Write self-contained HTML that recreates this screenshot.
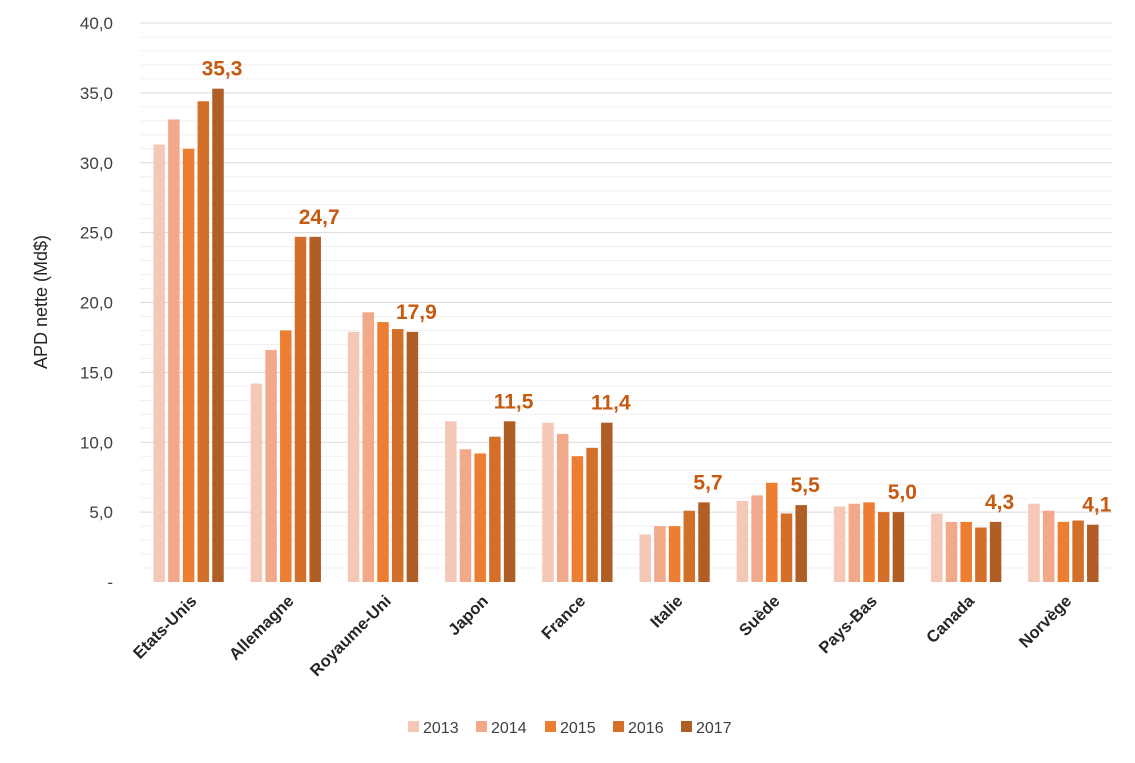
<!DOCTYPE html>
<html><head><meta charset="utf-8"><style>
body{margin:0;background:#fff;font-family:"Liberation Sans",sans-serif}
</style></head><body>
<svg width="1135" height="758" xmlns="http://www.w3.org/2000/svg" id="c"></svg>
<script>
const categories=["Etats-Unis","Allemagne","Royaume-Uni","Japon","France","Italie","Suède","Pays-Bas","Canada","Norvège"];
const years=["2013","2014","2015","2016","2017"];
const s2013=[31.3,14.2,17.9,11.5,11.4,3.4,5.8,5.4,4.9,5.6];
const s2014=[33.1,16.6,19.3,9.5,10.6,4.0,6.2,5.6,4.3,5.1];
const s2015=[31.0,18.0,18.6,9.2,9.0,4.0,7.1,5.7,4.3,4.3];
const s2016=[34.4,24.7,18.1,10.4,9.6,5.1,4.9,5.0,3.9,4.4];
const s2017=[35.3,24.7,17.9,11.5,11.4,5.7,5.5,5.0,4.3,4.1];
const yTicks=[0,5,10,15,20,25,30,35,40];
const yTickLabels=["-","5,0","10,0","15,0","20,0","25,0","30,0","35,0","40,0"];
const series=[s2013,s2014,s2015,s2016,s2017];
const colors=["#F4C7B6","#F1A98A","#ED7D31","#D46F2A","#B05E26"];
const svg=document.getElementById('c');const NS="http://www.w3.org/2000/svg";
function mk(t,a,p){const e=document.createElementNS(NS,t);for(const k in a)e.setAttribute(k,a[k]);(p||svg).appendChild(e);return e;}
const x0=140,x1=1112,yB=582,yT=23;
const y=v=>yB-(v/40)*(yB-yT);
const bw=(x1-x0)/categories.length;
for(let v=1;v<=40;v++){const l=mk('line',{x1:x0,x2:x1,y1:y(v),y2:y(v),stroke:v%5?'#F0F0F0':'#D9D9D9','stroke-width':1});
}
yTicks.forEach((v,i)=>{const t=mk('text',{x:113,y:y(v)+6,'text-anchor':'end','font-size':17,fill:'#404040'});t.textContent=yTickLabels[i];
});
const at=mk('text',{x:47,y:302,'text-anchor':'middle','font-size':18,fill:'#262626',transform:'rotate(-90 47 302)'});at.textContent="APD nette (Md$)";

const step=14.7,w=11.5;
categories.forEach((c,i)=>{const cx=x0+bw*(i+0.5);
series.forEach((s,j)=>{const bx=cx+(j-2)*step-w/2;const r=mk('rect',{x:bx,y:y(s[i]),width:w,height:yB-y(s[i]),fill:colors[j]});
});
const lx=cx+2*step+4;const lt=mk('text',{x:lx,y:y(s2017[i])-13,'text-anchor':'middle','font-size':21,'font-weight':'bold',fill:'#C55A11'});
lt.textContent=s2017[i].toFixed(1).replace('.',',');
const xt=mk('text',{x:cx+9,y:602,'text-anchor':'end','font-size':16.5,'font-weight':'bold',fill:'#262626',transform:`rotate(-45 ${cx+9} 602)`});
xt.textContent=c;});
const lg=mk('g',{});
const lxs=[408,476,545,613,681];
years.forEach((yr,j)=>{const r=mk('rect',{x:lxs[j],y:721,width:11,height:11,fill:colors[j]},lg);

const t=mk('text',{x:lxs[j]+15,y:733,'font-size':16,fill:'#404040'},lg);t.textContent=yr;
});
</script>
</body></html>
